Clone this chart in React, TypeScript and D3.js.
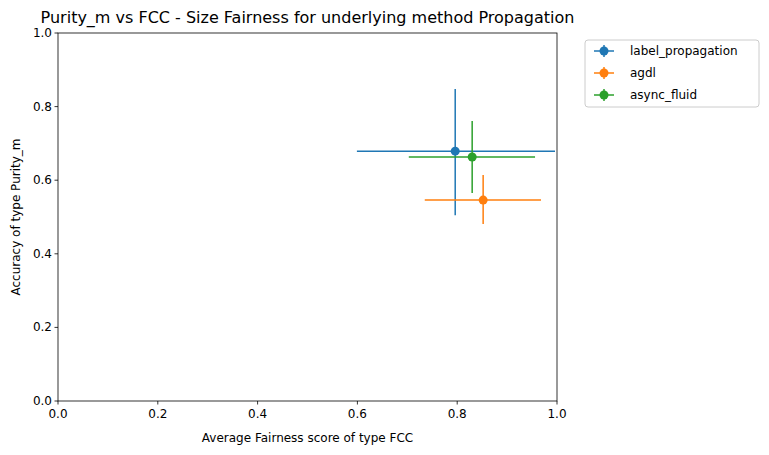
import * as d3 from "d3";
import React from "react";

const width = 769;
const height = 455;
const margin = { top: 33, right: 212, bottom: 54, left: 58 };

const methods = ["label_propagation", "agdl", "async_fluid"];
const colors = ["#1f77b4", "#ff7f0e", "#2ca02c"];
const xMean = [0.796, 0.852, 0.83];
const xLow = [0.599, 0.735, 0.703];
const xHigh = [0.996, 0.968, 0.956];
const yMean = [0.679, 0.546, 0.663];
const yLow = [0.505, 0.481, 0.565];
const yHigh = [0.848, 0.614, 0.761];
const ticks = [0, 0.2, 0.4, 0.6, 0.8, 1.0];

export default function App() {
  const x = d3.scaleLinear().domain([0, 1]).range([margin.left, width - margin.right]);
  const y = d3.scaleLinear().domain([0, 1]).range([height - margin.bottom, margin.top]);
  const font = "DejaVu Sans, sans-serif";
  const x0 = x(0), x1 = x(1), y0 = y(0), y1 = y(1);
  return (
    <svg width={width} height={height} style={{ position: "absolute", left: 0, top: 0 }} fontFamily={font}>
      <rect width={width} height={height} fill="white" />
      <text x={(x0 + x1) / 2} y={23} textAnchor="middle" fontSize={16}>
        Purity_m vs FCC - Size Fairness for underlying method Propagation
      </text>
      {methods.map((m, i) => (
        <g key={m} stroke={colors[i]} strokeWidth={1.5}>
          <line x1={x(xLow[i])} x2={x(xHigh[i])} y1={y(yMean[i])} y2={y(yMean[i])} />
          <line x1={x(xMean[i])} x2={x(xMean[i])} y1={y(yLow[i])} y2={y(yHigh[i])} />
          <circle cx={x(xMean[i])} cy={y(yMean[i])} r={4.5} fill={colors[i]} stroke="none" />
        </g>
      ))}
      <rect x={x0} y={y1} width={x1 - x0} height={y0 - y1} fill="none" stroke="black" strokeWidth={0.8} />
      {ticks.map((t) => (
        <g key={"x" + t}>
          <line x1={x(t)} x2={x(t)} y1={y0} y2={y0 + 3.5} stroke="black" strokeWidth={0.8} />
          <text x={x(t)} y={y0 + 17} textAnchor="middle" fontSize={12}>{t.toFixed(1)}</text>
        </g>
      ))}
      {ticks.map((t) => (
        <g key={"y" + t}>
          <line x1={x0 - 3.5} x2={x0} y1={y(t)} y2={y(t)} stroke="black" strokeWidth={0.8} />
          <text x={x0 - 6} y={y(t) + 4} textAnchor="end" fontSize={12}>{t.toFixed(1)}</text>
        </g>
      ))}
      <text x={(x0 + x1) / 2} y={442} textAnchor="middle" fontSize={12}>Average Fairness score of type FCC</text>
      <text transform={`translate(20,${(y0 + y1) / 2}) rotate(-90)`} textAnchor="middle" fontSize={12}>
        Accuracy of type Purity_m
      </text>
      <rect x={585} y={40} width={174} height={67} rx={3} fill="white" stroke="#ccc" />
      {methods.map((m, i) => (
        <g key={"l" + m} stroke={colors[i]} strokeWidth={1.5}>
          <line x1={594} x2={614} y1={51 + i * 22} y2={51 + i * 22} />
          <line x1={604} x2={604} y1={45 + i * 22} y2={57 + i * 22} />
          <circle cx={604} cy={51 + i * 22} r={4.5} fill={colors[i]} stroke="none" />
          <text x={630} y={55 + i * 22} fontSize={12} fill="black" stroke="none">{m}</text>
        </g>
      ))}
    </svg>
  );
}
